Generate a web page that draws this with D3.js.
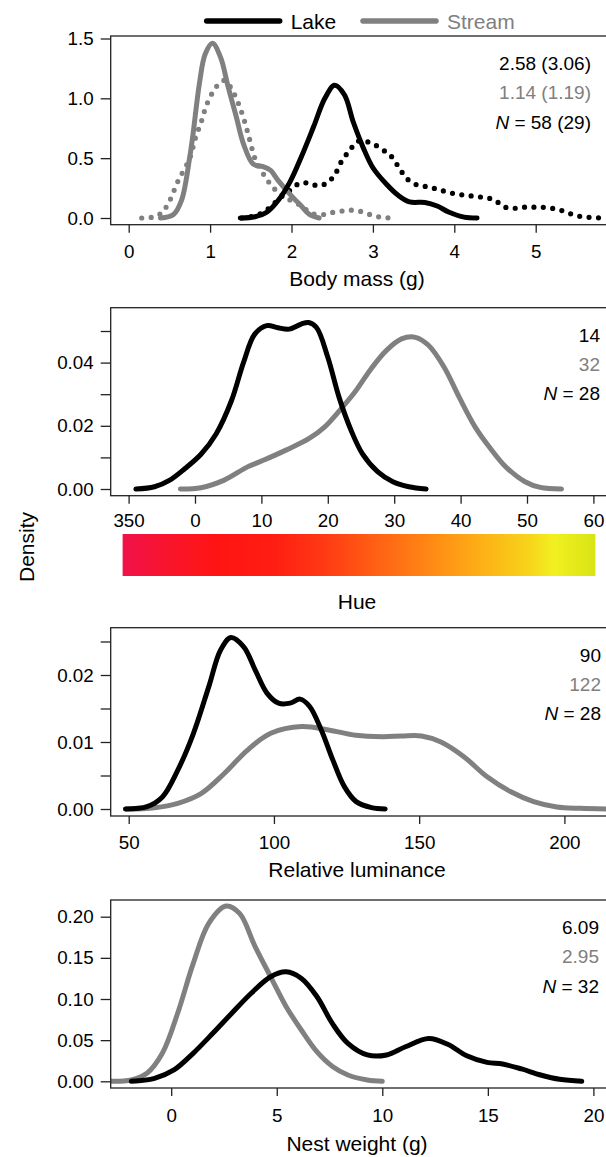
<!DOCTYPE html>
<html>
<head>
<meta charset="UTF-8">
<style>
body{margin:0;background:#fff;}
svg{display:block;font-family:"Liberation Sans",Arial,sans-serif;}
</style>
</head>
<body>
<svg width="606" height="1157"></svg>
<script src="https://d3js.org/d3.v7.min.js"></script>
<script>
// ---- data ----
// body mass (g): solid = fitted, dotted = raw
const massLakeSolid = [[1.37,0],[1.55,0.01],[1.7,0.05],[1.84,0.15],[1.98,0.3],[2.12,0.51],[2.27,0.76],[2.41,1.0],[2.53,1.11],[2.65,1.03],[2.76,0.8],[2.88,0.59],[3.0,0.42],[3.17,0.28],[3.31,0.19],[3.45,0.135],[3.64,0.13],[3.79,0.10],[3.93,0.05],[4.12,0.007],[4.28,0]];
const massLakeDotted = [[1.39,0],[1.6,0.03],[1.74,0.09],[1.86,0.17],[1.98,0.23],[2.1,0.29],[2.22,0.29],[2.32,0.27],[2.43,0.29],[2.53,0.36],[2.62,0.48],[2.72,0.57],[2.81,0.64],[2.91,0.64],[3.0,0.62],[3.12,0.57],[3.22,0.52],[3.36,0.38],[3.45,0.31],[3.57,0.27],[3.69,0.26],[3.79,0.24],[3.9,0.22],[4.02,0.2],[4.14,0.19],[4.26,0.18],[4.38,0.17],[4.5,0.15],[4.59,0.1],[4.71,0.08],[4.83,0.09],[4.95,0.09],[5.07,0.09],[5.21,0.08],[5.33,0.06],[5.45,0.03],[5.57,0.01],[5.69,0.005],[5.81,0]];
const massStreamSolid = [[0.39,0],[0.55,0.03],[0.65,0.15],[0.75,0.51],[0.79,0.7],[0.87,1.13],[0.94,1.37],[1.03,1.46],[1.13,1.34],[1.22,1.1],[1.32,0.85],[1.41,0.62],[1.53,0.45],[1.65,0.43],[1.74,0.4],[1.84,0.31],[1.98,0.2],[2.12,0.1],[2.22,0.03],[2.34,0]];
const massStreamDotted = [[0.16,0],[0.28,0.005],[0.4,0.04],[0.5,0.14],[0.6,0.3],[0.75,0.5],[0.82,0.67],[0.89,0.8],[0.96,0.95],[1.08,1.1],[1.18,1.15],[1.27,1.07],[1.34,0.97],[1.4,0.86],[1.46,0.72],[1.5,0.62],[1.55,0.5],[1.69,0.33],[1.81,0.23],[1.93,0.17],[2.1,0.11],[2.17,0.075],[2.26,0.035],[2.41,0.03],[2.53,0.05],[2.65,0.06],[2.76,0.065],[2.88,0.05],[3.0,0.02],[3.12,0.005],[3.24,0]];

// hue (x = degrees, 350 drawn as -10)
const hueLake = [[-8.9,0],[-6.1,0.0007],[-3.8,0.0028],[-1.5,0.0065],[0.9,0.011],[3.2,0.0175],[5.5,0.028],[7.3,0.040],[9.0,0.049],[10.8,0.0517],[12.5,0.051],[14.2,0.0506],[16.0,0.0522],[17.1,0.0527],[18.3,0.0511],[20.0,0.0417],[21.7,0.029],[23.5,0.0186],[25.2,0.0112],[27.5,0.0055],[29.8,0.0023],[32.2,0.0007],[34.8,0]];
const hueStream = [[-2.2,0],[0.9,0.0004],[4.4,0.0028],[7.9,0.007],[10.2,0.009],[13.7,0.0123],[17.2,0.016],[19.5,0.0196],[21.8,0.0249],[24.2,0.031],[26.5,0.038],[28.8,0.0438],[31.1,0.0475],[33.2,0.048],[35.2,0.0454],[37.5,0.0386],[39.8,0.029],[42.2,0.0196],[44.5,0.0128],[46.8,0.007],[49.7,0.0023],[52.0,0.0005],[55.2,0]];

// relative luminance
const lumLake = [[48.9,0],[56.3,0.00035],[61.6,0.0018],[66.9,0.0058],[72.3,0.0113],[77.6,0.0183],[81.6,0.0237],[85.2,0.0256],[89.6,0.0242],[93.6,0.0207],[97.6,0.0173],[101.6,0.0158],[105.6,0.0158],[109.0,0.0164],[112.3,0.0153],[116.3,0.0118],[120.3,0.0073],[124.3,0.0033],[128.3,0.0011],[133.6,0.0002],[138.3,0]];
const lumStream = [[48.9,0],[58.9,0.0002],[66.9,0.00085],[74.9,0.0023],[82.9,0.0053],[90.9,0.0088],[98.9,0.0113],[109.5,0.0123],[118.8,0.0118],[128.2,0.011],[137.5,0.0108],[144.1,0.0109],[150.8,0.0109],[157.5,0.0100],[165.4,0.0078],[173.4,0.0048],[181.4,0.0026],[189.4,0.0011],[197.4,0.0003],[205.4,0.0001],[214.4,0]];

// nest weight (g)
const nestLake = [[-1.89,0],[-0.79,0.0036],[0.13,0.0138],[1.04,0.034],[1.96,0.058],[2.88,0.083],[3.79,0.107],[4.71,0.127],[5.44,0.133],[6.17,0.125],[6.9,0.103],[7.64,0.070],[8.37,0.046],[9.29,0.032],[10.2,0.032],[11.1,0.042],[12.2,0.052],[13.1,0.045],[14.0,0.031],[14.96,0.023],[15.7,0.021],[16.6,0.015],[17.5,0.0077],[18.4,0.0024],[19.45,0]];
const nestStream = [[-2.84,0],[-1.89,0.0016],[-1.15,0.0097],[-0.42,0.034],[0.31,0.083],[1.04,0.143],[1.78,0.192],[2.6,0.213],[3.24,0.204],[3.97,0.164],[4.71,0.127],[5.44,0.091],[6.17,0.062],[6.9,0.036],[7.64,0.018],[8.37,0.0077],[9.29,0.0016],[10.0,0]];

// tick values
const massXTicks = [0,1,2,3,4,5];
const massYTicks = [0,0.5,1.0,1.5];
const hueXTicks = [-10,0,10,20,30,40,50,60];
const hueYTicks = [0,0.01,0.02,0.03,0.04,0.05];
const hueYLabels = [0,0.02,0.04];
const lumXTicks = [50,100,150,200];
const lumYTicks = [0,0.005,0.01,0.015,0.02,0.025];
const lumYLabels = [0,0.01,0.02];
const nestXTicks = [0,5,10,15,20];
const nestYTicks = [0,0.05,0.1,0.15,0.2];

// annotation text (lake mean, stream mean, N)
const massNotes = ["2.58 (3.06)", "1.14 (1.19)", "58 (29)"];
const hueNotes = ["14", "32", "28"];
const lumNotes = ["90", "122", "28"];
const nestNotes = ["6.09", "2.95", "32"];

const BLACK = "#000", GRAY = "#808080";
const LEFT = 110.7, RIGHT = 607;
const svg = d3.select("svg");
const defs = svg.append("defs");

let clipId = 0;
function drawPanel(p) {
  const g = svg.append("g");
  const x = d3.scaleLinear().domain(p.xDom).range(p.xRng);
  const y = d3.scaleLinear().domain(p.yDom).range(p.yRng);

  const cid = "clip" + (clipId++);
  defs.append("clipPath").attr("id", cid).append("rect")
    .attr("x", LEFT).attr("y", p.top).attr("width", RIGHT - LEFT).attr("height", p.bottom - p.top);

  const line = d3.line().x(d => x(d[0])).y(d => y(d[1])).curve(d3.curveCatmullRom.alpha(0.5));
  const cg = g.append("g").attr("clip-path", "url(#" + cid + ")");
  p.curves.forEach(c => {
    cg.append("path")
      .attr("d", line(c.data))
      .attr("fill", "none")
      .attr("stroke", c.color)
      .attr("stroke-width", c.dotted ? 5.2 : 5)
      .attr("stroke-linecap", "round")
      .attr("stroke-linejoin", "round")
      .attr("stroke-dasharray", c.dotted ? "0 9.4" : null);
  });

  // box
  g.append("rect")
    .attr("x", LEFT).attr("y", p.top)
    .attr("width", RIGHT - LEFT).attr("height", p.bottom - p.top)
    .attr("fill", "none").attr("stroke", "#222").attr("stroke-width", 1.3);

  // y axis
  const ya = g.append("g").attr("transform", "translate(" + LEFT + ",0)")
    .call(d3.axisLeft(y).tickValues(p.yTicks).tickSize(10).tickPadding(7)
      .tickFormat(d => (p.yLabels || p.yTicks).some(v => Math.abs(v - d) < 1e-9) ? d3.format(p.yFmt)(d) : ""));
  ya.select(".domain").remove();

  // x axis
  const xa = g.append("g").attr("transform", "translate(0," + p.bottom + ")")
    .call(d3.axisBottom(x).tickValues(p.xTicks).tickSize(8).tickPadding(p.xPad || 11)
      .tickFormat(p.xFmt || (d => d)));
  xa.select(".domain").remove();

  svg.selectAll(".tick line").attr("stroke", "#222").attr("stroke-width", 1.3);
  svg.selectAll(".tick text").attr("font-size", 18.8).attr("fill", "#000")
    .attr("font-family", "Liberation Sans, Arial, sans-serif");

  // notes
  const colors = [BLACK, GRAY, BLACK];
  p.notes.forEach((t, i) => {
    const tx = g.append("text")
      .attr("x", p.noteX).attr("y", p.top + 27 + i * 29.4)
      .attr("dy", "0.36em").attr("text-anchor", "end")
      .attr("font-size", 19).attr("fill", colors[i]);
    if (i === 2) {
      tx.append("tspan").attr("font-style", "italic").text("N");
      tx.append("tspan").text(" = " + t);
    } else tx.text(t);
  });

  if (p.xTitle) {
    g.append("text").attr("x", 357).attr("y", p.xTitleY).attr("dy", "0.36em")
      .attr("text-anchor", "middle").attr("font-size", 21).text(p.xTitle);
  }
  return {x, y};
}

drawPanel({
  top: 36, bottom: 224.7,
  xDom: [0, 5], xRng: [128.7, 535.7],
  yDom: [0, 1.5], yRng: [218, 38.5],
  xTicks: massXTicks, yTicks: massYTicks, yFmt: ".1f", xPad: 12,
  curves: [
    {data: massStreamDotted, color: GRAY, dotted: true},
    {data: massLakeDotted, color: BLACK, dotted: true},
    {data: massStreamSolid, color: GRAY},
    {data: massLakeSolid, color: BLACK}
  ],
  notes: massNotes, noteX: 591,
  xTitle: "Body mass (g)", xTitleY: 278
});

const hue = drawPanel({
  top: 307.7, bottom: 495.7,
  xDom: [-10, 60], xRng: [128.6, 593.4],
  yDom: [0, 0.05], yRng: [489, 331],
  xTicks: hueXTicks, yTicks: hueYTicks, yLabels: hueYLabels, yFmt: ".2f", xPad: 10,
  xFmt: d => d < 0 ? d + 360 : d,
  curves: [
    {data: hueStream, color: GRAY},
    {data: hueLake, color: BLACK}
  ],
  notes: hueNotes, noteX: 600
});

drawPanel({
  top: 627.7, bottom: 816,
  xDom: [50, 200], xRng: [128.7, 564.4],
  yDom: [0, 0.025], yRng: [809, 641.5],
  xTicks: lumXTicks, yTicks: lumYTicks, yLabels: lumYLabels, yFmt: ".2f", xPad: 11.5,
  curves: [
    {data: lumStream, color: GRAY},
    {data: lumLake, color: BLACK}
  ],
  notes: lumNotes, noteX: 601,
  xTitle: "Relative luminance", xTitleY: 869
});

drawPanel({
  top: 900, bottom: 1088,
  xDom: [0, 20], xRng: [171.2, 593.4],
  yDom: [0, 0.2], yRng: [1081.3, 916.7],
  xTicks: nestXTicks, yTicks: nestYTicks, yFmt: ".2f", xPad: 12.5,
  curves: [
    {data: nestStream, color: GRAY},
    {data: nestLake, color: BLACK}
  ],
  notes: nestNotes, noteX: 599,
  xTitle: "Nest weight (g)", xTitleY: 1143
});

// hue colour bar, positioned on the hue scale
const barStops = [[-10.9,"#f0124a"],[-3,"#fa1428"],[3,"#ff1414"],[12,"#ff1e12"],[20,"#ff3c14"],[28,"#ff6414"],[36,"#ff8c14"],[44,"#fdb416"],[50,"#f7d21a"],[54,"#f2f020"],[60.3,"#d8e414"]];
const bx0 = hue.x(-10.9), bx1 = hue.x(60.3);
const grad = defs.append("linearGradient").attr("id", "hueGrad")
  .attr("x1", "0%").attr("x2", "100%").attr("y1", "0%").attr("y2", "0%");
barStops.forEach(s => {
  grad.append("stop").attr("offset", ((hue.x(s[0]) - bx0) / (bx1 - bx0) * 100) + "%").attr("stop-color", s[1]);
});
svg.append("rect").attr("x", bx0).attr("y", 534).attr("width", bx1 - bx0).attr("height", 42)
  .attr("fill", "url(#hueGrad)");
svg.append("text").attr("x", 357).attr("y", 601).attr("dy", "0.36em")
  .attr("text-anchor", "middle").attr("font-size", 21).text("Hue");

// shared y title
svg.append("text").attr("transform", "translate(26,547) rotate(-90)").attr("dy", "0.36em")
  .attr("text-anchor", "middle").attr("font-size", 21).text("Density");

// legend
const leg = svg.append("g");
[["Lake", BLACK, 206.7], ["Stream", GRAY, 363]].forEach(l => {
  leg.append("line").attr("x1", l[2]).attr("x2", l[2] + 73).attr("y1", 21).attr("y2", 21)
    .attr("stroke", l[1]).attr("stroke-width", 5.5).attr("stroke-linecap", "round");
  leg.append("text").attr("x", l[2] + 84).attr("y", 21).attr("dy", "0.36em")
    .attr("font-size", 21).attr("fill", l[1]).text(l[0]);
});
</script>
</body>
</html>
